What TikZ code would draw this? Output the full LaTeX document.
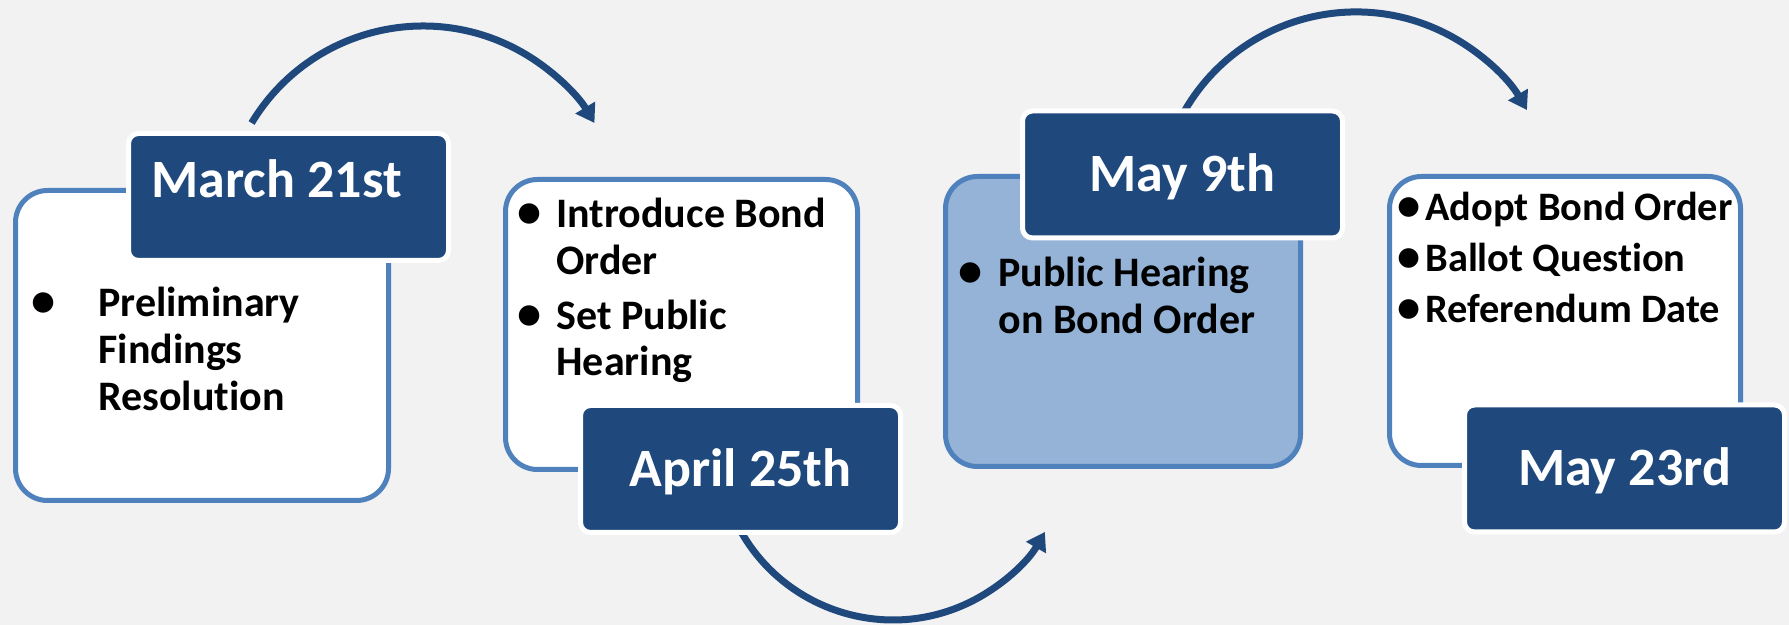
\documentclass[tikz,border=0pt]{standalone}
\usepackage{fontspec}
\setmainfont{Carlito}[Ligatures={NoCommon}]
\usetikzlibrary{arrows.meta}
\definecolor{bgc}{HTML}{F2F2F2}
\definecolor{darkc}{HTML}{1F497D}
\definecolor{accc}{HTML}{4F81BD}
\definecolor{lightc}{HTML}{95B3D7}
\newcommand{\bul}[1]{\makebox[#1][c]{\scalebox{1.15}{\textbullet}}}
\begin{document}
\begin{tikzpicture}[x=0.5pt,y=0.5pt,
  card/.style={draw=accc,line width=2.5pt,fill=white,rounded corners=16pt,inner sep=0pt},
  datebox/.style={fill=darkc,draw=white,line width=2.5pt,rounded corners=5pt,
    minimum width=160pt,minimum height=63.5pt,inner sep=0pt,
    font=\fontsize{27}{32}\selectfont\bfseries,text=white,text height=17.4pt,text depth=0pt},
  body/.style={font=\fontsize{21}{23.3}\selectfont\bfseries,inner sep=0pt,anchor=base west},
  arr/.style={draw=darkc,line width=3.5pt,-{Triangle[length=9pt,width=11pt]}}]
\useasboundingbox[fill=bgc] (0,0) rectangle (1789,-625);
% arrows
\coordinate (a1s) at (251.6,-123);
\coordinate (a2s) at (737.1,-524.4);
\coordinate (a3s) at (1181.2,-117);
\draw[arr] (a1s) arc[start angle=149,end angle=31,radius=200];
\draw[arr] (a2s) arc[start angle=207,end angle=330.2,radius=175];
\draw[arr] (a3s) arc[start angle=152,end angle=30.3,radius=198];
% cards
\node[card,minimum width=186.5pt,minimum height=155pt] (c1) at (202,-345.5) {};
\node[card,minimum width=176pt,minimum height=145pt] (c2) at (681.5,-324.5) {};
\node[card,fill=lightc,minimum width=177.5pt,minimum height=145pt] (c3) at (1123,-321.5) {};
\node[card,minimum width=175.5pt,minimum height=144.5pt] (c4) at (1565,-321) {};
% date boxes
\node[datebox,text depth=16.5pt] (d1) at (288.5,-197) {March 21st\rule{12pt}{0pt}};
\node[datebox] (d2) at (740.5,-469) {April 25th};
\node[datebox] (d3) at (1182.5,-174.5) {May 9th};
\node[datebox] (d4) at (1624.5,-468.5) {May 23rd};
% body texts
\node[body] (t1) at (-12,-317) {\begin{tabular}[t]{@{}l@{}l@{}}\bul{55pt} & Preliminary\\ & Findings\\ & Resolution\end{tabular}};
\node[body] (t2) at (502,-228) {\begin{tabular}[t]{@{}l@{}l@{}}\bul{27pt} & Introduce Bond\\ & Order\\[4pt] \bul{27pt} & Set Public\\ & Hearing\end{tabular}};
\node[body] (t3) at (942,-287) {\begin{tabular}[t]{@{}l@{}l@{}}\bul{28pt} & Public Hearing\\ & on Bond Order\end{tabular}};
\node[body,font=\fontsize{20.2}{23.3}\selectfont\bfseries] (t4) at (1393,-221) {\begin{tabular}[t]{@{}l@{}l@{}}\bul{16pt} & Adopt Bond Order\\[2pt] \bul{16pt} & Ballot Question\\[2pt] \bul{16pt} & Referendum Date\end{tabular}};
\end{tikzpicture}
\end{document}
